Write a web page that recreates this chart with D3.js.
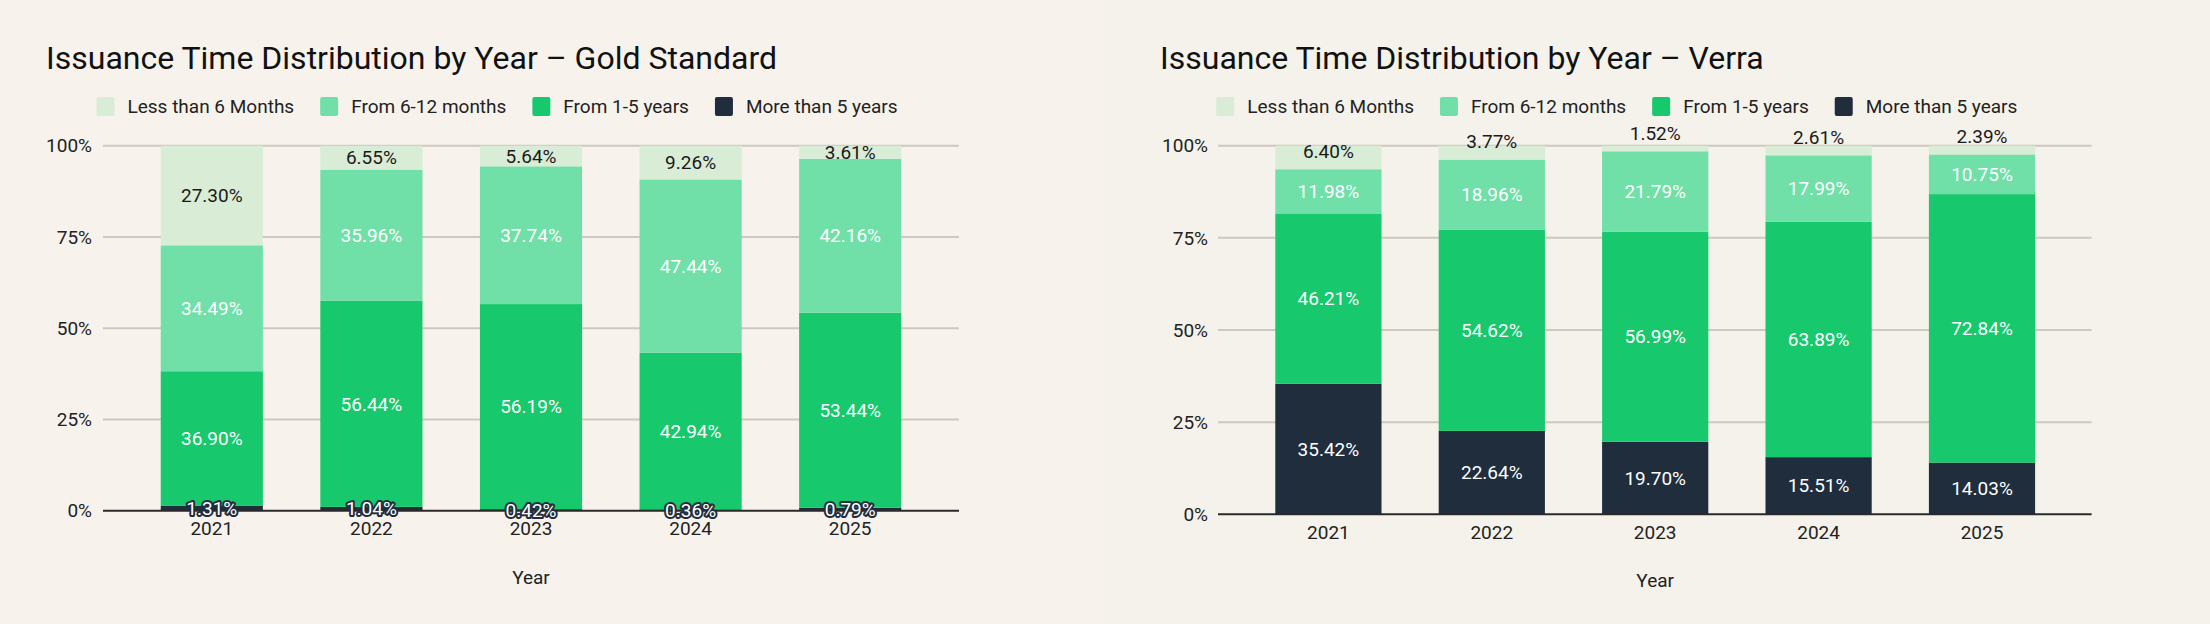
<!DOCTYPE html>
<html><head><meta charset="utf-8">
<script src="https://cdn.jsdelivr.net/npm/d3@7"></script>
<style>
html,body{margin:0;padding:0;background:#f6f2eb;}
svg{display:block;font-family:Roboto, "Noto Sans", Arial, sans-serif;}
</style></head>
<body>
<svg id="c" width="2210" height="624"></svg>
<script>
const years = ["2021","2022","2023","2024","2025"];
const seriesNames = ["Less than 6 Months","From 6-12 months","From 1-5 years","More than 5 years"];
const seriesColors = ["#d8ecd6","#70e0a8","#17c96c","#1f2d3d"];
const yTicks = [0,25,50,75,100];
// Gold Standard (percent)
const gsLess6m  = [27.30, 6.55, 5.64, 9.26, 3.61];
const gs6to12m  = [34.49, 35.96, 37.74, 47.44, 42.16];
const gs1to5y   = [36.90, 56.44, 56.19, 42.94, 53.44];
const gsOver5y  = [1.31, 1.04, 0.42, 0.36, 0.79];
// Verra (percent)
const vLess6m   = [6.40, 3.77, 1.52, 2.61, 2.39];
const v6to12m   = [11.98, 18.96, 21.79, 17.99, 10.75];
const v1to5y    = [46.21, 54.62, 56.99, 63.89, 72.84];
const vOver5y   = [35.42, 22.64, 19.70, 15.51, 14.03];

const svg = d3.select("#c");
svg.append("rect").attr("x",0).attr("y",0).attr("width",1105).attr("height",624).attr("fill","#f7f3ec");
svg.append("rect").attr("x",1105).attr("y",0).attr("width",1105).attr("height",624).attr("fill","#f4f2ea");

const FS = 19;
function drawChart(cfg){
  const g = svg.append("g");
  g.append("text").attr("x",cfg.titleX).attr("y",69).attr("font-size",32).attr("fill","#111")
    .text(cfg.title);
  let lx = cfg.legendX;
  seriesNames.forEach((n,i)=>{
    g.append("rect").attr("x",lx).attr("y",97).attr("width",18).attr("height",19).attr("rx",2)
      .attr("fill",seriesColors[i]);
    const t = g.append("text").attr("x",lx+31).attr("y",113).attr("font-size",FS).attr("fill","#222").text(n);
    lx += 31 + t.node().getComputedTextLength() + 26;
  });
  const y = d3.scaleLinear().domain([0,100]).range([cfg.y0,cfg.y1]);
  const x = d3.scaleBand().domain(years).range([cfg.bandX0,cfg.bandX1])
    .paddingInner(cfg.pad).paddingOuter(cfg.pad/2);
  g.append("g").selectAll("line").data(yTicks.filter(d=>d>0)).join("line")
    .attr("x1",cfg.gridX0).attr("x2",cfg.gridX1)
    .attr("y1",d=>y(d)).attr("y2",d=>y(d)).attr("stroke","#cdc8c0").attr("stroke-width",2);
  g.append("g").selectAll("text").data(yTicks).join("text")
    .attr("x",cfg.yLabelX).attr("y",d=>y(d)).attr("dy","0.35em").attr("text-anchor","end")
    .attr("font-size",FS).attr("fill","#222").text(d=>d+"%");
  const rows = years.map((yr,i)=>{
    const o={year:yr}; cfg.data.forEach((arr,k)=>o["s"+k]=arr[i]); return o;});
  const keys = ["s3","s2","s1","s0"];
  const stack = d3.stack().keys(keys)(rows);
  stack.forEach(layer=>{
    const si = +layer.key.slice(1);
    g.append("g").selectAll("rect").data(layer).join("rect")
      .attr("x",d=>x(d.data.year)).attr("width",x.bandwidth())
      .attr("y",d=>y(d[1])).attr("height",d=>y(d[0])-y(d[1]))
      .attr("fill",seriesColors[si]);
  });
  g.append("line").attr("x1",cfg.gridX0).attr("x2",cfg.gridX1).attr("y1",y(0)).attr("y2",y(0))
    .attr("stroke","#2a2a2a").attr("stroke-width",2);
  stack.forEach(layer=>{
    const si = +layer.key.slice(1);
    layer.forEach(d=>{
      const v = d[1]-d[0];
      let cy = (y(d[0])+y(d[1]))/2;
      if(cfg.liftTop && si===0) cy = Math.min(cy, y(d[0])-18);
      const small = (y(d[0])-y(d[1])) < 14 && si===3;
      const t = g.append("text").attr("x",x(d.data.year)+x.bandwidth()/2).attr("y",cy)
        .attr("dy","0.35em").attr("text-anchor","middle").attr("font-size",FS)
        .text(v.toFixed(2)+"%");
      if(si===0){ t.attr("fill","#1a1a1a"); }
      else if(small){ t.attr("fill","#ffffff").attr("stroke","#1f2d3d").attr("stroke-width",4)
        .attr("paint-order","stroke").attr("stroke-linejoin","round"); }
      else t.attr("fill","#ffffff");
    });
  });
  g.append("g").selectAll("text").data(years).join("text")
    .attr("x",d=>x(d)+x.bandwidth()/2).attr("y",cfg.xTickY).attr("dy","0.35em")
    .attr("text-anchor","middle").attr("font-size",FS).attr("fill","#222").text(d=>d);
  g.append("text").attr("x",(cfg.bandX0+cfg.bandX1)/2).attr("y",cfg.xTitleY).attr("dy","0.35em")
    .attr("text-anchor","middle").attr("font-size",FS).attr("fill","#222").text("Year");
}

drawChart({title:"Issuance Time Distribution by Year – Gold Standard", titleX:46, legendX:96.5,
  gridX0:103, gridX1:959, bandX0:132, bandX1:930, pad:0.36, y0:510.7, y1:145.7, yLabelX:92,
  xTickY:528.7, xTitleY:577, liftTop:false,
  data:[gsLess6m, gs6to12m, gs1to5y, gsOver5y]});
drawChart({title:"Issuance Time Distribution by Year – Verra", titleX:1160, legendX:1216.3,
  gridX0:1218, gridX1:2091.6, bandX0:1246.7, bandX1:2063.7, pad:0.35, y0:514.3, y1:145.7, yLabelX:1208,
  xTickY:532, xTitleY:580, liftTop:true,
  data:[vLess6m, v6to12m, v1to5y, vOver5y]});
</script>
</body></html>
